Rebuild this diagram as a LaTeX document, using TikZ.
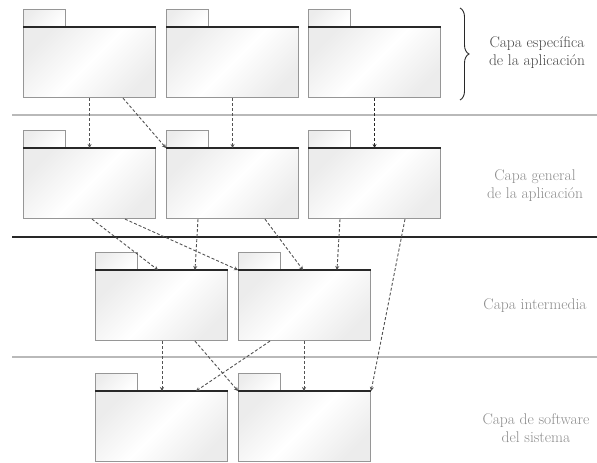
\documentclass[tikz,border=0pt]{standalone}
\usepackage{tikz}
\usetikzlibrary{arrows.meta,positioning,calc,decorations.pathreplacing}
\usepackage{xcolor}
\definecolor{Edge}{RGB}{150,150,150}
\definecolor{Dark}{RGB}{40,40,40}
\definecolor{Shade}{RGB}{236,236,236}
\definecolor{LabelGray}{RGB}{140,140,140}
\tikzset{
  pkgbody/.style={rectangle,draw=Edge,line width=1.1pt,
                  top color=Shade,bottom color=Shade,middle color=white,shading angle=45,
                  minimum width=132pt,minimum height=70pt,inner sep=0pt,anchor=north west},
  pkgtab/.style={rectangle,draw=Edge,line width=1.1pt,
                 top color=Shade,bottom color=white,shading angle=45,
                 minimum width=42pt,minimum height=17pt,inner sep=0pt},
  dep/.style={-{Stealth[length=4pt,width=4pt]},Dark!80,line width=0.9pt,
              dash pattern=on 3pt off 2pt},
  layer/.style={font=\fontsize{15.5}{18}\selectfont,text=LabelGray,align=center},
  sepline/.style={line width=1.4pt,gray!55},
}
\newcommand{\pkg}[2]{%
  \node[pkgbody] (#1) at (#2) {};
  \node[pkgtab,above right=0pt and 0pt of #1.north west] (#1t) {};
  \draw[Dark,line width=1.2pt] (#1.north west) -- (#1.north east);
}
\begin{document}
\begin{tikzpicture}[x=1pt,y=-1pt]
  \useasboundingbox (0,0) rectangle (597,463);
  % separators
  \draw[sepline] (12,115) -- (597,115);
  \draw[line width=1.6pt,Dark] (12,237) -- (597,237);
  \draw[sepline] (12,357) -- (597,357);
  % packages
  \pkg{a1}{23,27}
  \pkg{a2}{166,27}
  \pkg{a3}{308,27}
  \pkg{b1}{23,148}
  \pkg{b2}{166,148}
  \pkg{b3}{308,148}
  \pkg{c1}{95,270}
  \pkg{c2}{238,270}
  \pkg{d1}{95,391}
  \pkg{d2}{238,391}
  % dependencies
  \draw[dep] (a1.south) -- (b1.north);
  \draw[dep] ([xshift=100pt]a1.south west) -- (b2.north west);
  \draw[dep] (a2.south) -- (b2.north);
  \draw[dep,line width=1.3pt,Dark] (a3.south) -- (b3.north);
  \draw[dep] ([xshift=69pt]b1.south west) -- ([xshift=63pt]c1.north west);
  \draw[dep] ([xshift=102pt]b1.south west) -- (c2.north west);
  \draw[dep] ([xshift=32pt]b2.south west) -- ([xshift=100pt]c1.north west);
  \draw[dep] ([xshift=99pt]b2.south west) -- ([xshift=65pt]c2.north west);
  \draw[dep] ([xshift=32pt]b3.south west) -- ([xshift=99pt]c2.north west);
  \draw[dep] ([xshift=97pt]b3.south west) -- (d2.north east);
  \draw[dep] ([xshift=67pt]c1.south west) -- ([xshift=67pt]d1.north west);
  \draw[dep] ([xshift=100pt]c1.south west) -- (d2.north west);
  \draw[dep] ([xshift=32pt]c2.south west) -- ([xshift=101pt]d1.north west);
  \draw[dep] ([xshift=66pt]c2.south west) -- ([xshift=66pt]d2.north west);
  % layers
  \draw[decorate,decoration={brace,amplitude=9pt},line width=0.9pt,Dark]
    (460,8) -- (460,100);
  \node[layer,text=Dark!85] (l1) at (537,53) {Capa específica\\de la aplicación};
  \node[layer] (l2) at (535,186) {Capa general\\de la aplicación};
  \node[layer] (l3) at (535,306) {Capa intermedia};
  \node[layer] (l4) at (536,428) {Capa de software\\del sistema};
\end{tikzpicture}
\end{document}
